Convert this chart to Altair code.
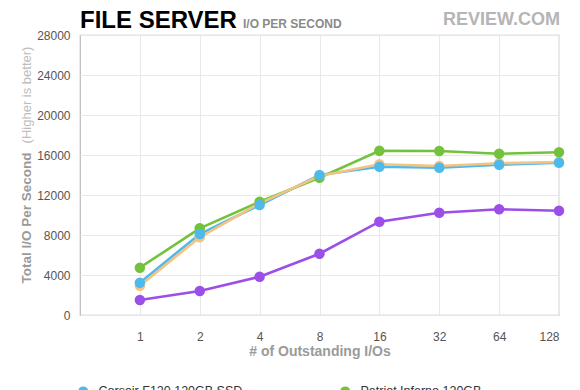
import altair as alt
import pandas as pd

x_labels = ["1", "2", "4", "8", "16", "32", "64", "128"]
series_names = ["Corsair F120 120GB SSD", "Patriot Inferno 120GB", "OCZ Vertex 3 120GB", "Intel 320 Series 120GB"]
series_colors = ["#4DB9EC", "#74C23B", "#F3C382", "#9B4FE8"]
draw_order = [3, 2, 0, 1]  # orange, purple, green, blue on top
# legend is laid out column-first: keep Corsair and Patriot on row one
legend_order = [0, 2, 1, 3]

corsair = [3230, 8100, 11000, 14000, 14830, 14730, 15030, 15230]
patriot = [4730, 8670, 11330, 13730, 16430, 16400, 16130, 16270]
ocz = [2930, 7770, 11170, 13900, 15070, 14900, 15170, 15300]
intel = [1500, 2400, 3830, 6130, 9330, 10230, 10570, 10430]
values = [corsair, patriot, ocz, intel]
y_ticks = [0, 4000, 8000, 12000, 16000, 20000, 24000, 28000]

rows = []
for si, name in enumerate(series_names):
    for xi, lab in enumerate(x_labels):
        rows.append({"series": name, "idx": xi + 1, "label": lab,
                     "value": values[si][xi], "order": draw_order[si]})
df = pd.DataFrame(rows)

FONT = "Liberation Sans"
label_expr = "[''," + ",".join("'%s'" % l for l in x_labels) + "][datum.value]"
dom = [series_names[i] for i in legend_order]
rng = [series_colors[i] for i in legend_order]

color = alt.Color("series:N",
                  scale=alt.Scale(domain=dom, range=rng),
                  legend=alt.Legend(title=None, orient="none", legendX=-3, legendY=350,
                                    columns=2, columnPadding=96, symbolType="circle",
                                    symbolSize=100, labelFontSize=12.5, labelColor="#333",
                                    labelFont=FONT, rowPadding=8, labelOffset=9,
                                    symbolStrokeWidth=0))

x = alt.X("idx:Q", scale=alt.Scale(domain=[0, 8], nice=False),
          axis=alt.Axis(values=list(range(1, 9)), labelExpr=label_expr, title=None,
                        domain=False, ticks=False, labelPadding=16, labelFontSize=12,
                        labelColor="#555", labelFont=FONT, gridColor="#e8e8e8",
                        labelOverlap=False))
y = alt.Y("value:Q", scale=alt.Scale(domain=[0, 28000], nice=False),
          axis=alt.Axis(values=y_ticks, title=None, domain=False, tickCount=8,
                        ticks=False, labelPadding=10, labelFontSize=12, labelColor="#555",
                        labelFont=FONT, gridColor="#e8e8e8", format="d",
                        labelOverlap=False))

base = alt.Chart(df)
lines = base.mark_line(strokeWidth=2.6).encode(
    x=x, y=y, color=color, detail="series:N", order=alt.Order("idx:Q"))
points = base.mark_circle(size=110, opacity=1).encode(
    x=x, y=y, color=color, order=alt.Order("order:Q"))

ann = pd.DataFrame({"t": [0]})
def txt(text, xv, yv, size, weight="normal", col="#000", angle=0, align="left", baseline="alphabetic"):
    kw = dict(text=text, fontSize=size, fontWeight=weight, color=col, align=align,
              baseline=baseline, font=FONT)
    if angle:
        kw["angle"] = angle
    return alt.Chart(ann).mark_text(**kw).encode(x=alt.value(xv), y=alt.value(yv))

title = txt("FILE SERVER", 0, -7, 24, "bold", "#000")
subtitle = txt("I/O PER SECOND", 163, -7, 12, "bold", "#8a8a8a")
logo = txt("REVIEW.COM", 480, -10, 18, "bold", "#b5b5b5", align="right")
ytitle = txt("Total I/O Per Second", -53, 183, 13.5, "bold", "#9a9a9a", angle=270,
             align="center", baseline="middle")
ynote = txt("(Higher is better)", -53, 60, 13, "normal", "#bdbdbd", angle=270,
            align="center", baseline="middle")
xtitle = txt("# of Outstanding I/Os", 240, 317, 14, "bold", "#9a9a9a", align="center",
             baseline="middle")

chart = alt.layer(lines, points, title, subtitle, logo, ytitle, ynote, xtitle).properties(
    width=479, height=280,
    autosize=alt.AutoSizeParams(type="none"),
    padding={"left": 72, "top": 27, "right": 13, "bottom": 75},
).configure_view(stroke="#bbbbbb", strokeWidth=1.2)

chart.save("out.html", embed_options={"renderer": "svg", "actions": False})
